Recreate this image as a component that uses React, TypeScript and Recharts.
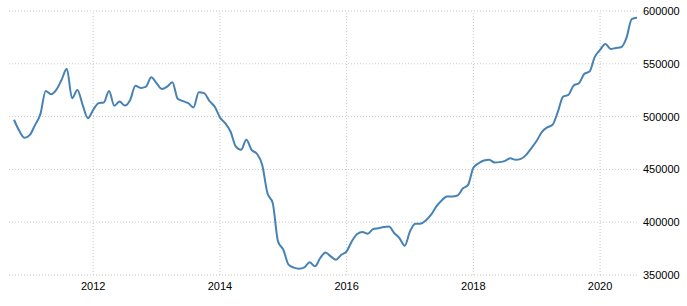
import React from 'react';
import { LineChart, Line, XAxis, YAxis, CartesianGrid, ReferenceLine } from 'recharts';

const startYear = 2010;
const startMonth = 10;

const values = [
  497000, 486500, 479900, 482700, 492200, 502300, 524300, 521200, 525300, 534700,
  545200, 517400, 525300, 511100, 498500, 506400, 512700, 513300, 524300, 510200,
  514200, 510400, 515800, 529100, 527200, 528400, 537300, 531600, 526200, 528400,
  532600, 516800, 514600, 512700, 508700, 523100, 522200, 514900, 509500, 499300,
  493800, 485900, 471700, 468500, 478000, 468500, 464800, 454400, 427600, 418100,
  381800, 374000, 359800, 357000, 356000, 357200, 362000, 358200, 366100, 371400,
  367600, 364500, 369200, 372400, 382000, 388800, 390700, 389100, 393400, 394300,
  395400, 396000, 389800, 384900, 377800, 391300, 398600, 398600, 401700, 407100,
  414900, 420600, 424400, 424400, 425300, 431900, 435400, 451500, 455800, 458400,
  459100, 456500, 456900, 458100, 460500, 459100, 460000, 463800, 470200, 477100,
  485600, 489800, 492200, 504500, 519000, 520600, 529500, 531600, 540400, 542600,
  556500, 563100, 568800, 564100, 565000, 565700, 574500, 592400, 593700,
];

const xTicks = [2012, 2014, 2016, 2018, 2020];
const yTicks = [350000, 400000, 450000, 500000, 550000, 600000];

const data = values.map((v, i) => ({
  t: startYear + (startMonth - 1 + i) / 12,
  v,
}));

const font = { fontSize: 11, fill: '#000', fontFamily: 'Liberation Sans, Arial, sans-serif' };

export default function App() {
  return (
    <div style={{ position: 'absolute', left: 0, top: 0 }}>
      <LineChart
        width={687}
        height={306}
        data={data}
        margin={{ top: 11, right: 0, bottom: 0, left: 9 }}
      >
        <CartesianGrid stroke="#c8c8c8" strokeDasharray="1 2" vertical={false} />
        {xTicks.map((t) => (
          <ReferenceLine key={t} x={t} stroke="#c8c8c8" strokeDasharray="1 2" />
        ))}
        <XAxis
          dataKey="t"
          type="number"
          domain={[2010.671, 2020.583]}
          ticks={xTicks}
          axisLine={false}
          tickLine={false}
          tickSize={0}
          tickMargin={7}
          height={31}
          tick={font}
          allowDataOverflow
        />
        <YAxis
          orientation="right"
          domain={[350000, 600000]}
          ticks={yTicks}
          axisLine={false}
          tickLine={false}
          tickSize={0}
          tickMargin={6}
          width={50}
          tick={font}
          allowDataOverflow
        />
        <Line
          type="monotone"
          dataKey="v"
          stroke="#4682b4"
          strokeWidth={2}
          dot={false}
          isAnimationActive={false}
        />
      </LineChart>
    </div>
  );
}
